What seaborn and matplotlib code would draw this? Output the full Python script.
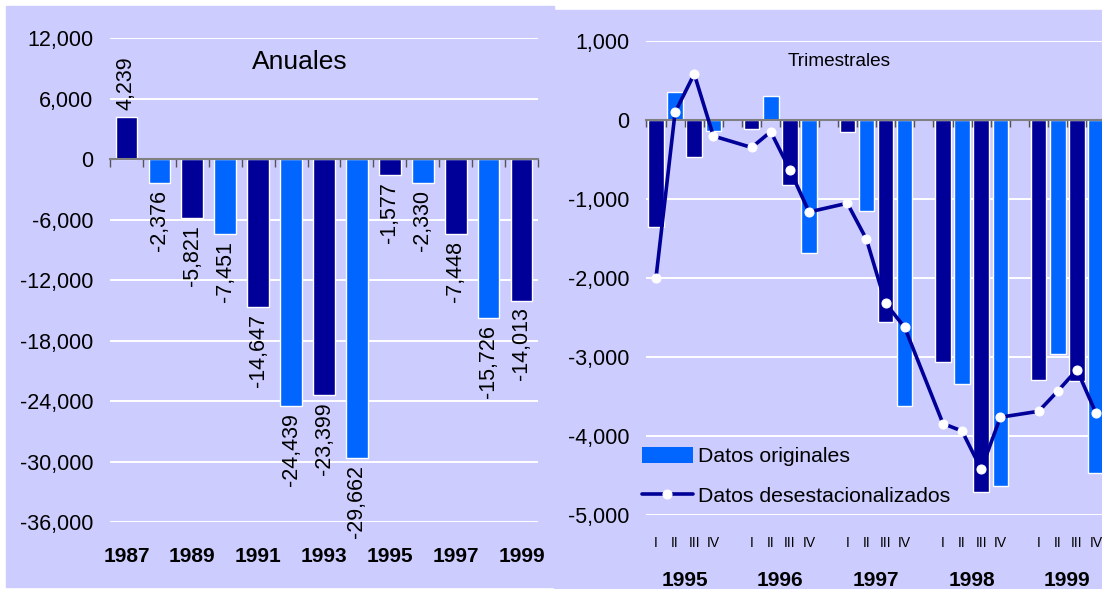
import numpy as np
import pandas as pd
import seaborn as sns
import matplotlib.pyplot as plt
import matplotlib.transforms as mtransforms
from matplotlib.patches import Rectangle, Patch
from matplotlib.ticker import FuncFormatter

# annual balance (left panel)
years = [1987, 1988, 1989, 1990, 1991, 1992, 1993, 1994, 1995, 1996, 1997, 1998, 1999]
annual = [4239, -2376, -5821, -7451, -14647, -24439, -23399, -29662,
          -1577, -2330, -7448, -15726, -14013]

# quarterly balance (right panel)
q_years = [1995, 1996, 1997, 1998, 1999]
quarters = ['I', 'II', 'III', 'IV']
q_original = [-1350, 355, -465, -140,
              -110, 305, -830, -1690,
              -160, -1150, -2550, -3615,
              -3060, -3340, -4700, -4630,
              -3285, -2960, -3300, -4470]
q_adjusted = [-2000, 95, 580, -205,
              -350, -150, -635, -1165,
              -1055, -1510, -2320, -2625,
              -3840, -3935, -4420, -3760,
              -3685, -3430, -3160, -3710]

DARK = '#000099'
LIGHT = '#0066FF'
BG = '#CCCCFF'
GRID = 'white'

sns.set_theme(style='white')
plt.rcParams['font.family'] = ['Liberation Sans', 'DejaVu Sans']
plt.rcParams['axes.unicode_minus'] = False
plt.rcParams['text.color'] = 'black'
plt.rcParams['xtick.color'] = 'black'
plt.rcParams['ytick.color'] = 'black'
plt.rcParams['axes.labelcolor'] = 'black'

W, H = 1102, 589
fig = plt.figure(figsize=(W / 100, H / 100), dpi=100)
fig.patch.set_facecolor('white')

def px_rect(x0, y0, x1, y1):
    return [x0 / W, 1 - y1 / H, (x1 - x0) / W, (y1 - y0) / H]

# panel backgrounds
fig.patches.append(Rectangle((6 / W, 1 - 587 / H), (554 - 6) / W, (587 - 6) / H,
                             transform=fig.transFigure, color=BG, zorder=-5))
fig.patches.append(Rectangle((554 / W, 0), (W - 554) / W, (H - 10) / H,
                             transform=fig.transFigure, color=BG, zorder=-5))

thousands = FuncFormatter(lambda v, pos: f'{v:,.0f}')

ax1 = fig.add_axes(px_rect(110, 38.3, 538, 522.3))
ax2 = fig.add_axes(px_rect(646.4, 40.7, 1105.6, 515.3))
for ax in (ax1, ax2):
    ax.set_facecolor('none')
    for s in ax.spines.values():
        s.set_visible(False)
    ax.set_axisbelow(True)
    ax.grid(axis='y', color=GRID, lw=1.4)
    ax.grid(axis='x', visible=False)
    ax.tick_params(axis='y', length=0, pad=12, labelsize=15.5, labelcolor='black')

pal = {'dark': DARK, 'light': LIGHT}

# ---- left: annual
df_a = pd.DataFrame({'year': [str(y) for y in years], 'value': annual})
df_a['shade'] = ['dark' if i % 2 == 0 else 'light' for i in range(len(df_a))]
sns.barplot(data=df_a, x='year', y='value', hue='shade', palette=pal, dodge=False,
            width=0.66, saturation=1, errorbar=None, legend=False, ax=ax1)
for c in ax1.containers:
    ax1.bar_label(c, fmt='{:,.0f}', rotation=90, padding=5, fontsize=15.5, color='black')
ax1.set_xlim(-0.5, len(years) - 0.5)
ax1.set_ylim(-36000, 12000)
ax1.set_yticks(range(-36000, 12001, 6000))
ax1.yaxis.set_major_formatter(thousands)
ax1.set_xticks(range(0, len(years), 2), [str(y) for y in years[::2]])
ax1.tick_params(axis='x', length=0, pad=17.5, labelsize=15, labelcolor='black')
for t in ax1.get_xticklabels():
    t.set_fontweight('bold')
ax1.set_xlabel('')
ax1.set_ylabel('')
ax1.text(0.444, 0.951, 'Anuales', transform=ax1.transAxes, ha='center', va='center',
         fontsize=19)

zero1 = ax1.secondary_xaxis(0, transform=ax1.transData)
zero1.set_xticks(np.arange(-0.5, len(years)))
zero1.tick_params(axis='x', direction='out', length=6, width=1, color='#555555',
                  labelbottom=False, labeltop=False)
zero1.spines['bottom'].set_color('#808080')
zero1.spines['bottom'].set_linewidth(1.5)
zero1.set_zorder(5)

# ---- right: quarterly
rows = []
for yi, y in enumerate(q_years):
    for qi, q in enumerate(quarters):
        k = yi * 4 + qi
        rows.append({'year': y, 'quarter': q, 'pos': yi * 5 + qi,
                     'orig': q_original[k], 'sa': q_adjusted[k],
                     'shade': 'dark' if qi % 2 == 0 else 'light'})
df_q = pd.DataFrame(rows)

sns.barplot(data=df_q, x='pos', y='orig', hue='shade', palette=pal, native_scale=True,
            dodge=False, width=0.81, saturation=1, errorbar=None, legend=False, ax=ax2)
sns.lineplot(data=df_q, x='pos', y='sa', color=DARK, lw=2.6, marker='o', markersize=6.5,
             markerfacecolor='white', markeredgecolor='white', zorder=6,
             label='Datos desestacionalizados', ax=ax2)

n_slots = len(q_years) * 5 - 1
ax2.set_xlim(-0.5, n_slots - 0.5)
ax2.set_ylim(-5000, 1000)
ax2.set_yticks(range(-5000, 1001, 1000))
ax2.yaxis.set_major_formatter(thousands)
ax2.set_xticks(df_q['pos'], df_q['quarter'])
ax2.tick_params(axis='x', length=0, pad=15, labelsize=10, labelcolor='black')
ax2.set_xlabel('')
ax2.set_ylabel('')
blend = mtransforms.blended_transform_factory(ax2.transData, ax2.transAxes)
for yi, y in enumerate(q_years):
    ax2.text(yi * 5 + 1.5, -0.138, str(y), transform=blend, ha='center', va='center',
             fontsize=15, fontweight='bold')
ax2.text(0.419, 0.957, 'Trimestrales', transform=ax2.transAxes, ha='center', va='center',
         fontsize=13.7)

zero2 = ax2.secondary_xaxis(0, transform=ax2.transData)
zero2.set_xticks(np.arange(-0.5, n_slots))
zero2.tick_params(axis='x', direction='out', length=5, width=1, color='#555555',
                  labelbottom=False, labeltop=False)
zero2.spines['bottom'].set_color('#808080')
zero2.spines['bottom'].set_linewidth(1.5)
zero2.set_zorder(5)

h, l = ax2.get_legend_handles_labels()
ax2.legend([Patch(facecolor=LIGHT, edgecolor='none'), h[0]],
           ['Datos originales', l[0]],
           loc='upper left', bbox_to_anchor=(641.5 / W, 1 - 447 / H),
           bbox_transform=fig.transFigure, frameon=False, fontsize=15.3,
           handlelength=2.4, handleheight=0.75, handletextpad=0.25,
           labelspacing=0.95, borderpad=0, borderaxespad=0)

fig.savefig('out.png', dpi=100)
